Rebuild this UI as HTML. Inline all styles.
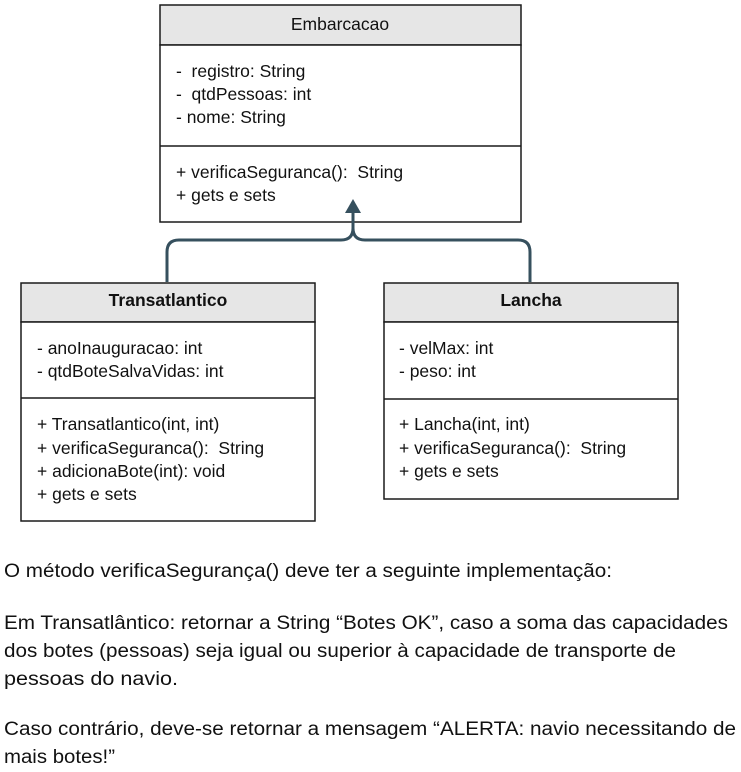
<!DOCTYPE html>
<html><head><style>body{margin:0;background:#fff}svg{display:block}text{white-space:pre}</style></head>
<body>
<svg width="741" height="772" viewBox="0 0 741 772" xmlns="http://www.w3.org/2000/svg" font-family="Liberation Sans, Arial, sans-serif" fill="#000" xml:space="preserve">
<g stroke="#1a1a1a" stroke-width="1.5">
<rect x="160" y="5" width="361" height="40" fill="#e6e6e6"/>
<rect x="160" y="45" width="361" height="177" fill="#fff"/>
<line x1="160" y1="146" x2="521" y2="146"/>
<rect x="21" y="283" width="294" height="39" fill="#e6e6e6"/>
<rect x="21" y="322" width="294" height="199" fill="#fff"/>
<line x1="21" y1="398" x2="315" y2="398"/>
<rect x="384" y="283" width="294" height="39" fill="#e6e6e6"/>
<rect x="384" y="322" width="294" height="177" fill="#fff"/>
<line x1="384" y1="399" x2="678" y2="399"/>
</g>
<path d="M167 282 V252 Q167 240 179 240 H341 Q353 240 353 228 V212 M530 282 V252 Q530 240 518 240 H365 Q353 240 353 228" fill="none" stroke="#36505e" stroke-width="3"/>
<polygon points="353,199 345,213 361,213" fill="#36505e"/>
<g font-size="17.5" fill="#111">
<text x="340" y="30" text-anchor="middle">Embarcacao</text>
<text x="176" y="77">-  registro: String</text>
<text x="176" y="100">-  qtdPessoas: int</text>
<text x="176" y="123">- nome: String</text>
<text x="176" y="178">+ verificaSeguranca():  String</text>
<text x="176" y="201">+ gets e sets</text>
<text x="168" y="306" text-anchor="middle" font-weight="bold">Transatlantico</text>
<text x="37" y="354">- anoInauguracao: int</text>
<text x="37" y="377">- qtdBoteSalvaVidas: int</text>
<text x="37" y="430">+ Transatlantico(int, int)</text>
<text x="37" y="454">+ verificaSeguranca():  String</text>
<text x="37" y="477">+ adicionaBote(int): void</text>
<text x="37" y="500">+ gets e sets</text>
<text x="531" y="306" text-anchor="middle" font-weight="bold">Lancha</text>
<text x="399" y="354">- velMax: int</text>
<text x="399" y="377">- peso: int</text>
<text x="399" y="430">+ Lancha(int, int)</text>
<text x="399" y="454">+ verificaSeguranca():  String</text>
<text x="399" y="477">+ gets e sets</text>
</g>
<g font-size="19" fill="#111">
<text x="4" y="577" textLength="608" lengthAdjust="spacingAndGlyphs">O método verificaSegurança() deve ter a seguinte implementação:</text>
<text x="4" y="629" textLength="724" lengthAdjust="spacingAndGlyphs">Em Transatlântico: retornar a String “Botes OK”, caso a soma das capacidades</text>
<text x="4" y="657" textLength="672" lengthAdjust="spacingAndGlyphs">dos botes (pessoas) seja igual ou superior à capacidade de transporte de</text>
<text x="4" y="685" textLength="174" lengthAdjust="spacingAndGlyphs">pessoas do navio.</text>
<text x="4" y="735" textLength="732" lengthAdjust="spacingAndGlyphs">Caso contrário, deve-se retornar a mensagem “ALERTA: navio necessitando de</text>
<text x="4" y="763" textLength="111" lengthAdjust="spacingAndGlyphs">mais botes!”</text>
</g>
</svg>
</body></html>
